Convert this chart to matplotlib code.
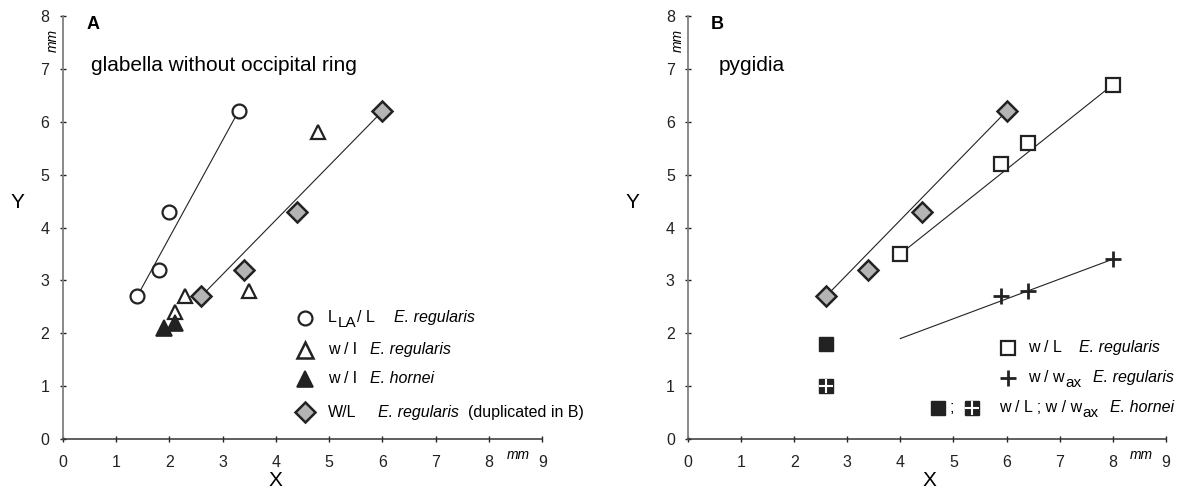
import matplotlib
matplotlib.use("Agg")
import matplotlib.pyplot as plt

plt.rcParams['font.family'] = 'Liberation Sans'

# ---- panel A: glabella without occipital ring ----
circ_x = [1.4, 1.8, 2.0, 3.3]
circ_y = [2.7, 3.2, 4.3, 6.2]
tri_x = [2.1, 2.3, 3.5, 4.8]
tri_y = [2.4, 2.7, 2.8, 5.8]
tri_h_x = [1.9, 2.1]
tri_h_y = [2.1, 2.2]
dia_x = [2.6, 3.4, 4.4, 6.0]
dia_y = [2.7, 3.2, 4.3, 6.2]
circ_line_x = [1.4, 3.3]
circ_line_y = [2.7, 6.2]
dia_line_x = [2.6, 6.0]
dia_line_y = [2.7, 6.2]

# ---- panel B: pygidia ----
sq_x = [4.0, 5.9, 6.4, 8.0]
sq_y = [3.5, 5.2, 5.6, 6.7]
plus_x = [5.9, 6.4, 8.0]
plus_y = [2.7, 2.8, 3.4]
sq_h_x = [2.6]
sq_h_y = [1.8]
sqx_h_x = [2.6]
sqx_h_y = [1.0]
sq_line_x = [4.0, 8.0]
sq_line_y = [3.5, 6.7]
plus_line_x = [4.0, 8.0]
plus_line_y = [1.9, 3.4]

xticks = list(range(0, 10))
yticks = list(range(0, 9))

dark = '#222222'
grey_fill = '#b4b4b4'
fs = 11.5

fig = plt.figure(figsize=(11.77, 4.94), dpi=100)
axA = fig.add_axes([0.0532, 0.1113, 0.4076, 0.8563])
axB = fig.add_axes([0.5845, 0.1113, 0.4060, 0.8563])


def style_axes(ax):
    ax.set_xlim(0, 9)
    ax.set_ylim(0, 8)
    for s in ['top', 'right']:
        ax.spines[s].set_visible(False)
    ax.spines['left'].set_color('#808080')
    ax.spines['left'].set_linewidth(1.3)
    ax.spines['bottom'].set_color('#333333')
    ax.spines['bottom'].set_linewidth(1.1)
    ax.set_xticks(xticks)
    ax.set_yticks(yticks)
    ax.tick_params(direction='inout', length=5, width=1, colors=dark,
                   labelsize=11.5)
    ax.tick_params(axis='x', pad=9)
    ax.tick_params(axis='y', pad=7)
    ax.text(8.54, -0.3, 'mm', fontsize=10, style='italic', ha='center',
            va='center', clip_on=False)
    ax.text(-0.19, 7.53, 'mm', fontsize=10, style='italic', rotation=90,
            ha='center', va='center', clip_on=False)


def line(ax, x, y):
    ax.plot(x, y, color=dark, lw=0.8, zorder=1)


def diamonds(ax, x, y):
    ax.plot(x, y, 'D', ms=10, mfc=grey_fill, mec=dark, mew=1.8,
            clip_on=False, zorder=3)


def sub_label(ax, x, y, base, sub, tail=''):
    # label with a near full-size lowered subscript
    t = ax.text(x, y, base, fontsize=fs, va='center')
    s = ax.annotate(sub, xy=(1, 0.5), xycoords=t, xytext=(0.8, -3.5),
                    textcoords='offset points', fontsize=fs - 0.5,
                    va='center', ha='left')
    if tail:
        ax.annotate(tail, xy=(1, 0.5), xycoords=s, xytext=(0.5, 3.5),
                    textcoords='offset points', fontsize=fs,
                    va='center', ha='left')


# ----- A -----
style_axes(axA)
axA.text(-0.84, 4.47, 'Y', fontsize=15, ha='center', va='center')
axA.text(3.99, -0.78, 'X', fontsize=15, ha='center', va='center')
axA.text(0.44, 7.84, 'A', fontsize=13, weight='bold', va='center')
axA.text(0.54, 7.06, 'glabella without occipital ring', fontsize=15, va='center')
line(axA, circ_line_x, circ_line_y)
line(axA, dia_line_x, dia_line_y)
axA.plot(circ_x, circ_y, 'o', ms=10, mfc='white', mec=dark, mew=1.6, zorder=3)
axA.plot(tri_x, tri_y, '^', ms=10, mfc='white', mec=dark, mew=1.6, zorder=3)
axA.plot(tri_h_x, tri_h_y, '^', ms=11, mfc=dark, mec=dark, mew=1.2, zorder=3)
diamonds(axA, dia_x, dia_y)

# legend A
lx, tx = 4.55, 4.98
rows = [2.29, 1.69, 1.14, 0.51]
axA.plot(lx, rows[0], 'o', ms=10, mfc='white', mec=dark, mew=1.6)
axA.plot(lx, rows[1], '^', ms=11, mfc='white', mec=dark, mew=1.8)
axA.plot(lx, rows[2], '^', ms=11, mfc=dark, mec=dark, mew=1.2)
diamonds(axA, lx, rows[3])
sub_label(axA, tx, rows[0], 'L', 'LA', '/ L')
axA.text(tx, rows[1], 'w / l', fontsize=fs, va='center')
axA.text(tx, rows[2], 'w / l', fontsize=fs, va='center')
axA.text(tx, rows[3], 'W/L', fontsize=fs, va='center')
axA.text(6.22, rows[0], 'E. regularis', fontsize=fs, style='italic', va='center')
axA.text(5.77, rows[1], 'E. regularis', fontsize=fs, style='italic', va='center')
axA.text(5.77, rows[2], 'E. hornei', fontsize=fs, style='italic', va='center')
axA.text(5.92, rows[3], 'E. regularis', fontsize=fs, style='italic', va='center')
axA.text(7.6, rows[3], '(duplicated in B)', fontsize=fs, va='center')

# ----- B -----
style_axes(axB)
axB.text(-1.04, 4.47, 'Y', fontsize=15, ha='center', va='center')
axB.text(4.55, -0.78, 'X', fontsize=15, ha='center', va='center')
axB.text(0.42, 7.84, 'B', fontsize=13, weight='bold', va='center')
axB.text(0.57, 7.06, 'pygidia', fontsize=15, va='center')
line(axB, dia_line_x, dia_line_y)
line(axB, sq_line_x, sq_line_y)
line(axB, plus_line_x, plus_line_y)
diamonds(axB, dia_x, dia_y)
axB.plot(sq_x, sq_y, 's', ms=9.5, mfc='white', mec=dark, mew=1.6, zorder=3)
axB.plot(plus_x, plus_y, '+', ms=12, mec=dark, mew=2, zorder=3)
axB.plot(sq_h_x, sq_h_y, 's', ms=9.5, mfc=dark, mec=dark, zorder=3)
axB.plot(sqx_h_x, sqx_h_y, 's', ms=9.5, mfc=dark, mec=dark, zorder=3)
axB.plot(sqx_h_x, sqx_h_y, '+', ms=9.5, mec='white', mew=1.5, zorder=4)

# legend B
bx, btx = 6.03, 6.4
brows = [1.73, 1.16, 0.59]
axB.plot(bx, brows[0], 's', ms=9.5, mfc='white', mec=dark, mew=1.6)
axB.plot(bx, brows[1], '+', ms=12, mec=dark, mew=2)
axB.plot(4.71, brows[2], 's', ms=9.5, mfc=dark, mec=dark)
axB.text(4.93, brows[2], ';', fontsize=fs, va='center')
axB.plot(5.35, brows[2], 's', ms=9.5, mfc=dark, mec=dark)
axB.plot(5.35, brows[2], '+', ms=9.5, mec='white', mew=1.5)
axB.text(btx, brows[0], 'w / L', fontsize=fs, va='center')
sub_label(axB, btx, brows[1], 'w / w', 'ax')
sub_label(axB, 5.85, brows[2], 'w / L ; w / w', 'ax')
axB.text(7.36, brows[0], 'E. regularis', fontsize=fs, style='italic', va='center')
axB.text(7.62, brows[1], 'E. regularis', fontsize=fs, style='italic', va='center')
axB.text(7.95, brows[2], 'E. hornei', fontsize=fs, style='italic', va='center')

fig.savefig('out.png', dpi=100)
